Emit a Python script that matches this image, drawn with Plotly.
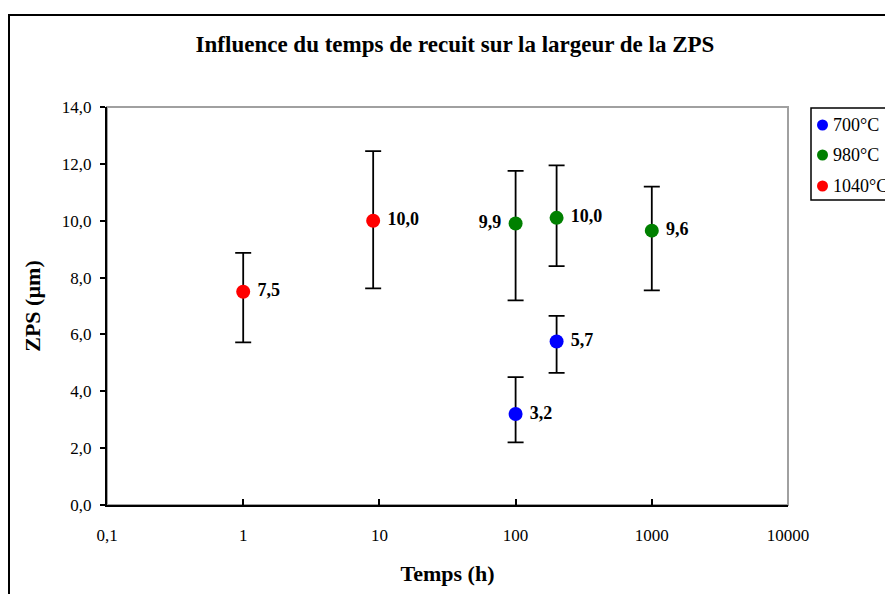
import plotly.graph_objects as go

# Data
series_names = ["700°C", "980°C", "1040°C"]
series_colors = ["#0000FF", "#008000", "#FF0000"]

x_700 = [100, 200]
y_700 = [3.2, 5.75]
err_plus_700 = [1.3, 0.9]
err_minus_700 = [1.0, 1.1]
lab_700 = ["3,2", "5,7"]

x_980 = [100, 200, 1000]
y_980 = [9.9, 10.1, 9.65]
err_plus_980 = [1.85, 1.85, 1.55]
err_minus_980 = [2.7, 1.7, 2.1]
lab_980 = ["9,9", "10,0", "9,6"]

x_1040 = [1, 9]
y_1040 = [7.5, 10.0]
err_plus_1040 = [1.37, 2.45]
err_minus_1040 = [1.78, 2.38]
lab_1040 = ["7,5", "10,0"]

x_tickvals = [0.1, 1, 10, 100, 1000, 10000]
x_ticktext = ["0,1", "1", "10", "100", "1000", "10000"]

FONT = "Liberation Serif"
OFF = 8  # page body offset
PL, PT, PW, PH = 107, 107, 681, 398  # plot area in page pixels


def px(X):
    return (X - PL) / PW


def py(Y):
    return (PT + PH - Y) / PH


series = [
    (x_700, y_700, err_plus_700, err_minus_700, lab_700, ["middle right", "middle right"]),
    (x_980, y_980, err_plus_980, err_minus_980, lab_980, ["middle left", "middle right", "middle right"]),
    (x_1040, y_1040, err_plus_1040, err_minus_1040, lab_1040, ["middle right", "middle right"]),
]

fig = go.Figure()
for i, (name, color, (xs, ys, ep, em, labs, pos)) in enumerate(zip(series_names, series_colors, series)):
    fig.add_trace(go.Scatter(
        x=xs, y=ys, name=name, mode="markers+text",
        text=[" " + l + " " for l in labs], textposition=pos,
        textfont=dict(family=FONT, size=18, color="black", weight="bold"),
        marker=dict(color=color, size=14),
        error_y=dict(type="data", symmetric=False, array=ep, arrayminus=em,
                     color="black", thickness=1.8, width=8),
        showlegend=False,
    ))

# plot area frame: gray top/right
fig.add_shape(type="rect", xref="paper", yref="paper", x0=0, y0=0, x1=1, y1=1,
              line=dict(color="#A0A0A0", width=2), layer="below")
# outer chart frame
fig.add_shape(type="rect", xref="paper", yref="paper",
              x0=px(9), y0=-0.3, x1=1.3, y1=py(15),
              line=dict(color="black", width=2))

# legend box (drawn)
fig.add_shape(type="rect", xref="paper", yref="paper",
              x0=px(811), y0=py(200), x1=px(890), y1=py(108),
              line=dict(color="black", width=1.5), fillcolor="white")
leg_y = [125, 155, 186]
for name, color, Y in zip(series_names, series_colors, leg_y):
    fig.add_shape(type="circle", xref="paper", yref="paper",
                  x0=px(817), x1=px(828), y0=py(Y + 5.5), y1=py(Y - 5.5),
                  line=dict(color=color, width=0), fillcolor=color)
    fig.add_annotation(xref="paper", yref="paper", x=px(831), y=py(Y),
                       text=name, showarrow=False, xanchor="left", yanchor="middle",
                       font=dict(family=FONT, size=18, color="black"))

fig.update_layout(
    width=893, height=594,
    margin=dict(l=PL - OFF, r=893 - (PL - OFF) - PW, t=PT - OFF, b=594 - (PT - OFF) - PH),
    paper_bgcolor="white", plot_bgcolor="white",
    separators=", ",
    title=dict(text="<b>Influence du temps de recuit sur la largeur de la ZPS</b>",
               x=px(455), xref="paper", xanchor="center", y=1 - (44 - OFF) / 594, yanchor="middle",
               font=dict(family=FONT, size=23, color="black")),
    font=dict(family=FONT, color="black"),
    showlegend=False,
)
fig.update_xaxes(
    type="log", range=[-1, 4], tickvals=x_tickvals, ticktext=x_ticktext,
    ticks="inside", ticklen=6, tickcolor="black", tickwidth=1.5,
    ticklabelstandoff=14,
    showline=True, linecolor="black", linewidth=2, showgrid=False, zeroline=False,
    tickfont=dict(family=FONT, size=17, color="black"),
    title=dict(text="<b>Temps (h)</b>", font=dict(family=FONT, size=22, color="black"), standoff=21),
)
fig.update_yaxes(
    range=[0, 14], dtick=2, tickformat=".1f",
    ticks="outside", ticklen=5, tickcolor="black", tickwidth=1.5,
    ticklabelstandoff=5,
    showline=True, linecolor="black", linewidth=2, showgrid=False, zeroline=False,
    tickfont=dict(family=FONT, size=17, color="black"),
    title=dict(text="<b>ZPS (µm)</b>", font=dict(family=FONT, size=22, color="black"), standoff=15),
)

fig.write_html("out.html")
